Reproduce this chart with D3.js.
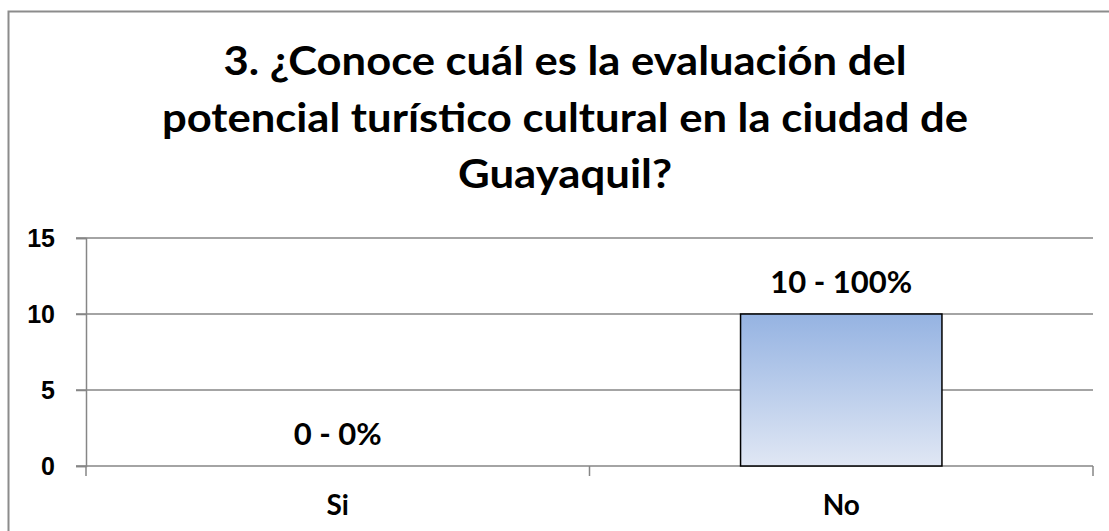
<!DOCTYPE html>
<html>
<head>
<meta charset="utf-8">
<script src="https://cdn.jsdelivr.net/npm/d3@7"></script>
<style>
body{margin:0;background:#fff;}
svg{display:block;font-family:Lato,"Open Sans",sans-serif;font-weight:700;}
</style>
</head>
<body>
<svg id="chart" width="1109" height="531"></svg>
<script>
var titleLines=["3. ¿Conoce cuál es la evaluación del","potencial turístico cultural en la ciudad de","Guayaquil?"];
var categories=["Si","No"];
var values=[0,10];
var percents=["0%","100%"];
var yTicks=[0,5,10,15];

var svg=d3.select("#chart");
var margin={left:86,right:16,top:238,bottom:65};
var W=1109,H=531;

// outer frame (right and bottom fall outside the picture)
svg.append("rect").attr("x",8.5).attr("y",11.5).attr("width",W+20).attr("height",H+20)
    .attr("fill","none").attr("stroke","#8c8c8c").attr("stroke-width",2);

// title
var titleWidths=[683,806,214];
svg.append("g").selectAll("text").data(titleLines).enter().append("text")
    .attr("x",565)
    .attr("y",function(d,i){return 75+i*56.5;})
    .attr("text-anchor","middle")
    .attr("font-size",41)
    .attr("textLength",function(d,i){return titleWidths[i];})
    .attr("lengthAdjust","spacingAndGlyphs")
    .text(function(d){return d;});

var x=d3.scaleBand().domain(categories).range([margin.left,W-margin.right]).paddingInner(0.6).paddingOuter(0.3);
var xb=d3.scaleBand().domain(categories).range([margin.left,W-margin.right]);
var y=d3.scaleLinear().domain([0,15]).range([H-margin.bottom,margin.top]);

// gradient
var defs=svg.append("defs");
var grad=defs.append("linearGradient").attr("id","barGrad").attr("x1",0).attr("y1",0).attr("x2",0).attr("y2",1);
grad.append("stop").attr("offset","0%").attr("stop-color","#95b3e2");
grad.append("stop").attr("offset","100%").attr("stop-color","#e0e7f4");

// grid lines
svg.append("g").selectAll("line").data(yTicks).enter().append("line")
    .attr("x1",margin.left-10).attr("x2",W-margin.right)
    .attr("y1",function(d){return y(d);}).attr("y2",function(d){return y(d);})
    .attr("stroke","#868686").attr("stroke-width",1.5);

// y axis
var yAxis=svg.append("g").attr("transform","translate("+margin.left+",0)")
    .call(d3.axisLeft(y).tickValues(yTicks).tickSize(10).tickPadding(21));
yAxis.select(".domain").attr("stroke","#868686").attr("stroke-width",1.5);
yAxis.selectAll(".tick line").attr("stroke","#868686").attr("stroke-width",1.5);
yAxis.selectAll("text").attr("font-size",25).attr("font-family",null).attr("fill","#000");

// x axis
var xTickPos=[margin.left,margin.left+xb.bandwidth(),W-margin.right];
svg.append("g").selectAll("line").data(xTickPos).enter().append("line")
    .attr("x1",function(d){return d;}).attr("x2",function(d){return d;})
    .attr("y1",y(0)).attr("y2",y(0)+10)
    .attr("stroke","#868686").attr("stroke-width",1.5);

svg.append("g").selectAll("text").data(categories).enter().append("text")
    .attr("x",function(d){return xb(d)+xb.bandwidth()/2;})
    .attr("y",y(0)+49)
    .attr("text-anchor","middle").attr("font-size",28)
    .text(function(d){return d;});

// bars
svg.append("g").selectAll("rect").data(values).enter().append("rect")
    .filter(function(d){return d>0;})
    .attr("x",function(d,i){return x(categories[values.indexOf(d)]);})
    .attr("y",function(d){return y(d);})
    .attr("width",x.bandwidth())
    .attr("height",function(d){return y(0)-y(d);})
    .attr("fill","url(#barGrad)").attr("stroke","#000").attr("stroke-width",1.5);

// data labels
svg.append("g").selectAll("text").data(values).enter().append("text")
    .attr("x",function(d,i){return xb(categories[i])+xb.bandwidth()/2;})
    .attr("y",function(d){return y(d)-21;})
    .attr("text-anchor","middle").attr("font-size",31)
    .text(function(d,i){return d+" - "+percents[i];});
</script>
</body>
</html>
